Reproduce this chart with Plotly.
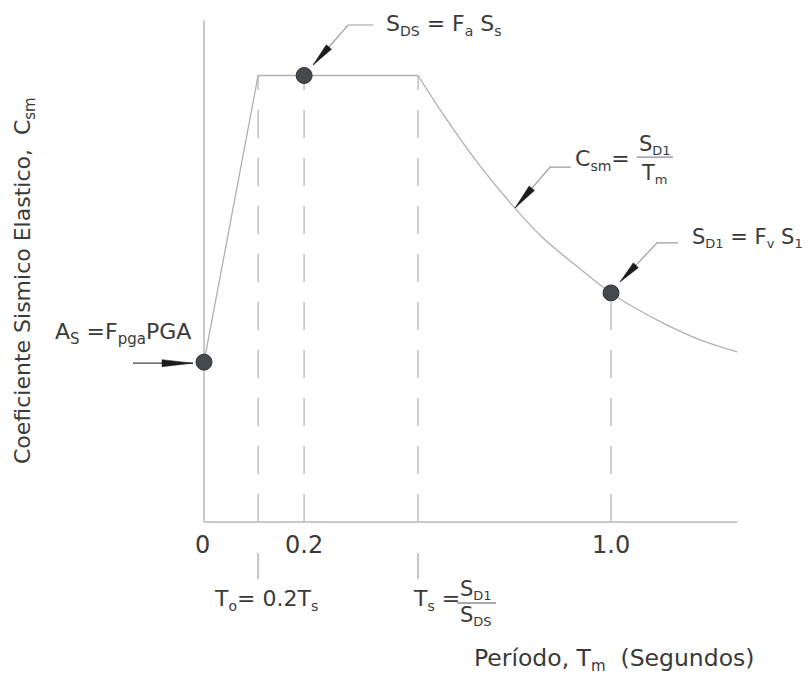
import numpy as np
import plotly.graph_objects as go

# ---------------- data (schematic units) ----------------
period_ramp = [0.0, 0.133, 0.526]          # 0, To, Ts
coef_ramp = [0.358, 1.0, 1.0]              # As, SDS, SDS
period_curve = [0.526, 0.587, 0.671, 0.759, 0.833, 0.916, 1.0, 1.054, 1.138, 1.219, 1.31]
coef_curve = [1.0, 0.914, 0.806, 0.708, 0.636, 0.573, 0.513, 0.482, 0.441, 0.408, 0.381]
point_period = [0.0, 0.246, 1.0]           # As, SDS, SD1 markers
point_coef = [0.358, 1.0, 0.513]
tick_vals = [0.0, 0.246, 1.0]
tick_text = ["0", "0.2", "1.0"]
t_o = 0.133
t_s = 0.526
y_axis_top = 1.124
x_axis_end = 1.31
csm_label_period = 0.764

# ---------------- layout constants ----------------
W, H = 808, 681
OX, OY = 204, 522          # pixel position of the origin
SX, SY = 407.0, 446.5      # pixels per unit


def px(x):
    return OX + SX * x


def py(y):
    return OY - SY * y


def sub(t, size=14):
    return f'<sub><span style="font-size:{size}px">{t}</span></sub>'


FONT = "DejaVu Sans"
TXT = "#3a3a3a"
LINE = "#b0b0b0"
AXIS = "#c9c9c9"
DASH = "#c4c4c4"
LEAD = "#9c9c9c"
HEAD = "#1c1c1c"
DOT = "#44494e"

fig = go.Figure()

# axis lines
fig.add_trace(go.Scatter(x=[0, x_axis_end], y=[0, 0], mode="lines",
                         line=dict(color=AXIS, width=2), hoverinfo="skip"))
fig.add_trace(go.Scatter(x=[0, 0], y=[0, y_axis_top], mode="lines",
                         line=dict(color=AXIS, width=2), hoverinfo="skip"))

# dashed verticals
for xv, yv in [(t_o, coef_ramp[1]), (point_period[1], point_coef[1]),
               (t_s, coef_ramp[2]), (point_period[2], point_coef[2])]:
    fig.add_trace(go.Scatter(x=[xv, xv], y=[0, yv], mode="lines",
                             line=dict(color=DASH, width=1.6, dash="28px,20px"),
                             hoverinfo="skip"))

# spectrum
fig.add_trace(go.Scatter(x=period_ramp, y=coef_ramp, mode="lines",
                         line=dict(color=LINE, width=1.3), hoverinfo="skip"))
fig.add_trace(go.Scatter(x=period_curve, y=coef_curve, mode="lines",
                         line=dict(color=LINE, width=1.3, shape="spline", smoothing=1),
                         hoverinfo="skip"))

# markers
fig.add_trace(go.Scatter(x=point_period, y=point_coef, mode="markers",
                         marker=dict(size=16, color=DOT, line=dict(color="#2e3236", width=1)),
                         hoverinfo="skip"))

# ---------------- decorations in pixel space (x2 / y2) ----------------
def pix_line(xs, ys, color=LEAD, width=1.2):
    fig.add_trace(go.Scatter(x=xs, y=ys, mode="lines", xaxis="x2", yaxis="y2",
                             line=dict(color=color, width=width), hoverinfo="skip"))


def arrow_head(tip, tail, length, width=7):
    tip = np.array(tip, float)
    tail = np.array(tail, float)
    u = (tail - tip) / np.linalg.norm(tail - tip)
    n = np.array([-u[1], u[0]])
    base = tip + u * length
    pts = [tip, base + n * width / 2, base - n * width / 2, tip]
    fig.add_trace(go.Scatter(x=[p[0] for p in pts], y=[p[1] for p in pts],
                             mode="lines", fill="toself", fillcolor=HEAD,
                             line=dict(color=HEAD, width=0.5),
                             xaxis="x2", yaxis="y2", hoverinfo="skip"))


annotations = []


def label(x, y, text, size=22, xanchor="left", yanchor="middle", angle=0):
    annotations.append(dict(x=x, y=y, xref="x2", yref="y2", text=text,
                            showarrow=False, xanchor=xanchor, yanchor=yanchor,
                            textangle=angle,
                            font=dict(family=FONT, size=size, color=TXT)))


def callout(anchor, tip_off, elbow_off, end_off, head_len):
    ax_, ay_ = anchor
    tip = (ax_ + tip_off[0], ay_ + tip_off[1])
    elbow = (ax_ + elbow_off[0], ay_ + elbow_off[1])
    end = (ax_ + end_off[0], ay_ + end_off[1])
    pix_line([tip[0], elbow[0], end[0]], [tip[1], elbow[1], end[1]])
    arrow_head(tip, elbow, head_len)


# SDS callout
p_sds = (px(point_period[1]), py(point_coef[1]))
callout(p_sds, (9, -10.5), (44, -50.5), (69, -50.5), 24)
label(p_sds[0] + 80, p_sds[1] - 50.5, f"S{sub('DS')} = F{sub('a')} S{sub('s')}")

# Csm callout
c_tip = (px(csm_label_period), py(float(np.interp(csm_label_period, period_curve, coef_curve))))
callout(c_tip, (0, 0), (35, -41), (56, -41), 26)
label(c_tip[0] + 58, c_tip[1] - 48, f"C{sub('sm')}=")
label(c_tip[0] + 140, c_tip[1] - 63, f"S{sub('D1', 13)}", size=21, xanchor="center")
label(c_tip[0] + 140, c_tip[1] - 34, f"T{sub('m', 13)}", size=21, xanchor="center")
pix_line([c_tip[0] + 122, c_tip[0] + 158], [c_tip[1] - 51, c_tip[1] - 51], color="#8a8a8a", width=1.3)

# SD1 callout
p_sd1 = (px(point_period[2]), py(point_coef[2]))
callout(p_sd1, (9, -11), (46, -50), (67, -50), 23)
label(p_sd1[0] + 79, p_sd1[1] - 55, f"S{sub('D1', 13)} = F{sub('v', 13)} S{sub('1', 13)}", size=21)

# As callout
p_as = (px(point_period[0]), py(point_coef[0]))
pix_line([p_as[0] - 71, p_as[0] - 11], [p_as[1] + 1, p_as[1] + 1], color="#444444", width=1.3)
arrow_head((p_as[0] - 11, p_as[1] + 1), (p_as[0] - 71, p_as[1] + 1), 31, width=7)
label(p_as[0] - 11, p_as[1] - 29, f"A{sub('S', 15)} =F{sub('pga', 15)}PGA", xanchor="right")

# x tick labels
for v, t in zip(tick_vals, tick_text):
    label(px(v) - (2 if v == 0 else 0), OY + 23, t, size=24, xanchor="center")

# To / Ts stubs and labels
for v in (t_o, t_s):
    pix_line([px(v), px(v)], [OY + 31, OY + 57], color=DASH, width=2)
label(px(t_o) - 46, OY + 78, f"T{sub('o')}= 0.2T{sub('s')}")
label(px(t_s) - 7, OY + 78, f"T{sub('s')} =")
label(px(t_s) + 58, OY + 68, f"S{sub('D1', 13)}", size=21, xanchor="center")
label(px(t_s) + 58, OY + 94, f"S{sub('DS', 13)}", size=21, xanchor="center")
pix_line([px(t_s) + 39, px(t_s) + 78], [OY + 81, OY + 81], color="#8a8a8a", width=1.3)

# axis titles
label(614, 659, f"Período, T{sub('m', 15)}\u00a0 (Segundos)", size=23.5, xanchor="center")
label(24, 281, f"Coeficiente Sismico Elastico,\u00a0 C{sub('sm', 15)}", xanchor="center", angle=-90)

fig.update_layout(
    width=W, height=H, autosize=False,
    margin=dict(l=0, r=0, t=0, b=0, pad=0),
    paper_bgcolor="white", plot_bgcolor="white",
    showlegend=False,
    xaxis=dict(range=[-OX / SX, (W - OX) / SX], visible=False, fixedrange=True),
    yaxis=dict(range=[-(H - OY) / SY, OY / SY], visible=False, fixedrange=True),
    xaxis2=dict(range=[0, W], visible=False, overlaying="x", anchor="y2", fixedrange=True),
    yaxis2=dict(range=[H, 0], visible=False, overlaying="y", anchor="x2", fixedrange=True),
    annotations=annotations,
)

fig.write_html("out.html", config={"displayModeBar": False})
